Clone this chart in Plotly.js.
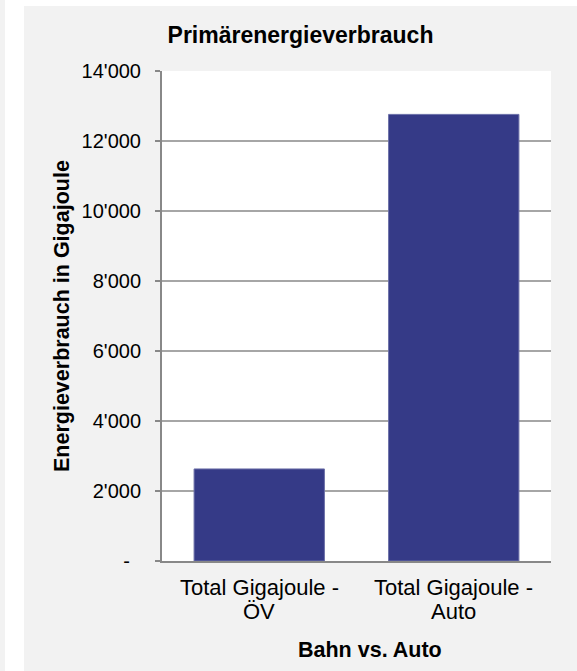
<!DOCTYPE html>
<html>
<head>
<meta charset="utf-8">
<script src="https://cdn.plot.ly/plotly-3.0.1.min.js"></script>
<style>
  html, body { margin: 0; padding: 0; background: #ffffff; width: 577px; height: 671px; overflow: hidden; }
  #strip { position: absolute; left: 0; top: 0; width: 5px; height: 671px; background: #f2f2f2; }
  #chart { position: absolute; left: 24px; top: 6px; width: 553px; height: 665px; }
</style>
</head>
<body>
<div id="strip"></div>
<div id="chart"></div>
<script>
const categories = ["Total Gigajoule -\nÖV", "Total Gigajoule -\nAuto"];
const values = [2630, 12760];
const tickValues = [0, 2000, 4000, 6000, 8000, 10000, 12000, 14000];
const tickLabels = ["-\u00a0\u00a0", "2'000", "4'000", "6'000", "8'000", "10'000", "12'000", "14'000"];

const font = "Liberation Sans, Arial, sans-serif";

const trace = {
  type: "bar",
  x: categories,
  y: values,
  marker: { color: "#353a87", line: { color: "#6b6fa8", width: 1 } },
  hoverinfo: "none"
};

// category label lines, drawn as annotations so the line spacing matches
const lineTops = [567, 591]; // div pixel top of each line
const catAnnotations = [];
categories.forEach(function (cat) {
  cat.split("\n").forEach(function (line, i) {
    catAnnotations.push({
      text: line,
      xref: "x", yref: "paper",
      x: cat, y: (555 - lineTops[i]) / 490,
      xanchor: "center", yanchor: "top",
      showarrow: false,
      font: { family: font, size: 22, color: "#000000" }
    });
  });
});

const layout = {
  width: 553,
  height: 665,
  paper_bgcolor: "#f2f2f2",
  plot_bgcolor: "#ffffff",
  margin: { l: 138, r: 26, t: 65, b: 110 },
  bargap: 0.33,
  showlegend: false,
  font: { family: font, color: "#000000" },
  title: {
    text: "<b>Primärenergieverbrauch</b>",
    font: { family: font, size: 23, color: "#000000" },
    xref: "container", x: 0.5, xanchor: "center",
    yref: "container", y: 1 - 29 / 665, yanchor: "middle"
  },
  xaxis: {
    type: "category",
    showgrid: false,
    showline: true,
    linecolor: "#888888",
    linewidth: 2,
    ticks: "",
    showticklabels: false,
    fixedrange: true
  },
  yaxis: {
    range: [0, 14000],
    tickvals: tickValues,
    ticktext: tickLabels,
    showgrid: true,
    gridcolor: "#a6a6a6",
    gridwidth: 1.5,
    zeroline: false,
    showline: true,
    linecolor: "#888888",
    linewidth: 2,
    ticks: "outside",
    ticklen: 5,
    tickwidth: 1.5,
    tickcolor: "#888888",
    ticklabelstandoff: 10,
    tickfont: { family: font, size: 20, color: "#000000" },
    fixedrange: true
  },
  annotations: catAnnotations.concat([
    {
      text: "<b>Energieverbrauch in Gigajoule</b>",
      xref: "paper", yref: "paper",
      x: (38 - 138) / 389, y: 0.5,
      xanchor: "center", yanchor: "middle",
      textangle: -90, showarrow: false,
      font: { family: font, size: 21.5, color: "#000000" }
    },
    {
      text: "<b>Bahn vs. Auto</b>",
      xref: "paper", yref: "paper",
      x: (346 - 138) / 389, y: (555 - 644) / 490,
      xanchor: "center", yanchor: "middle",
      showarrow: false,
      font: { family: font, size: 21.5, color: "#000000" }
    }
  ])
};

Plotly.newPlot("chart", [trace], layout, { displayModeBar: false, staticPlot: true });
</script>
</body>
</html>
